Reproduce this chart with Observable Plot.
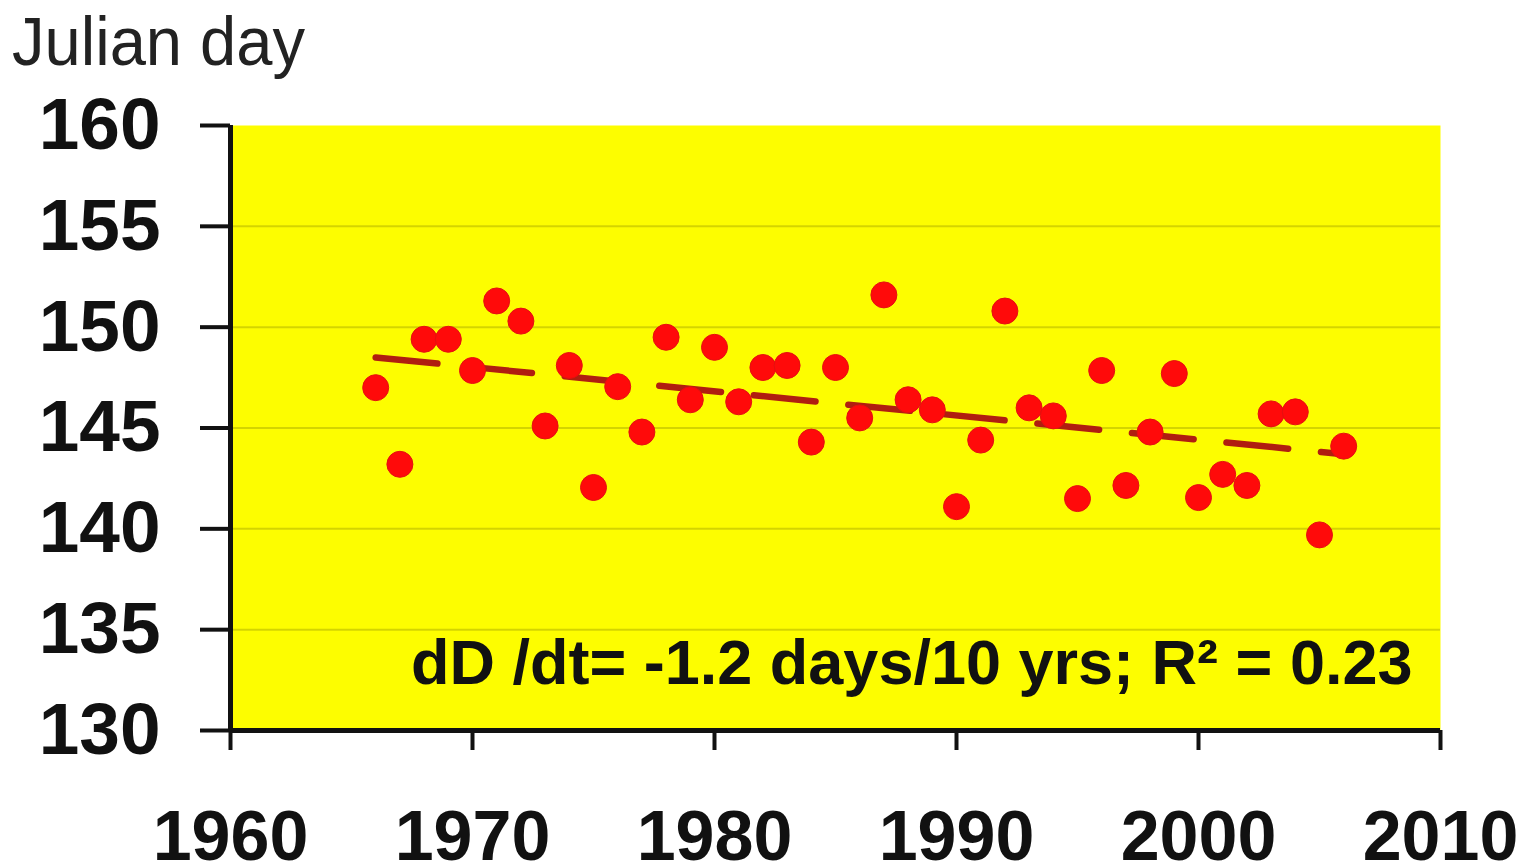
<!DOCTYPE html>
<html>
<head>
<meta charset="utf-8">
<script src="https://cdn.jsdelivr.net/npm/d3@7"></script>
<script src="https://cdn.jsdelivr.net/npm/@observablehq/plot@0.6"></script>
<style>
  body { margin: 0; background: #fff; overflow: hidden; }
  #wrap { position: relative; width: 1519px; height: 868px; }
  #title { position: absolute; left: 12px; top: 2px; font-family: "Liberation Sans Narrow", "Liberation Sans", sans-serif; font-size: 68px; color: #222; white-space: nowrap; transform-origin: 0 0; }
  #chart { position: absolute; left: 0; top: 0; }
</style>
</head>
<body>
<div id="wrap">
  <div id="chart"></div>
  <div id="title">Julian day</div>
</div>
<script>
const years = [1966,1967,1968,1969,1970,1971,1972,1973,1974,1975,1976,1977,1978,1979,1980,1981,1982,1983,1984,1985,1986,1987,1988,1989,1990,1991,1992,1993,1994,1995,1996,1997,1998,1999,2000,2001,2002,2003,2004,2005,2006];
const julianDay = [147.0,143.2,149.4,149.4,147.85,151.3,150.3,145.1,148.1,142.05,147.05,144.8,149.5,146.4,149.0,146.3,148.0,148.1,144.3,148.0,145.5,151.6,146.4,145.9,141.1,144.4,150.8,146.0,145.6,141.5,147.85,142.15,144.8,147.7,141.55,142.7,142.15,145.7,145.8,139.7,144.1];
const trendYears = [1966, 2006];
const trendValues = [148.5, 143.7];
const yTicks = [130,135,140,145,150,155,160];
const xTicks = [1960,1970,1980,1990,2000,2010];
const gridValues = [135,140,145,150,155];
const annotation = "dD /dt= -1.2 days/10 yrs; R\u00B2 = 0.23";

const points = years.map((y, i) => ({year: y, day: julianDay[i]}));
const trend = trendYears.map((y, i) => ({year: y, day: trendValues[i]}));

const chart = Plot.plot({
  width: 1519,
  height: 868,
  marginLeft: 230,
  marginRight: 79,
  marginTop: 125,
  marginBottom: 138,
  style: {fontFamily: "'Liberation Sans', Arial, sans-serif", background: "transparent", overflow: "visible"},
  x: {domain: [1960, 2010]},
  y: {domain: [130, 160]},
  marks: [
    Plot.frame({fill: "#fdfd00", stroke: null}),
    Plot.ruleY(gridValues, {stroke: "#d4d400", strokeWidth: 2}),
    Plot.line(trend, {x: "year", y: "day", stroke: "#b01e10", strokeWidth: 6.5, strokeDasharray: "62,33"}),
    Plot.dot(points, {x: "year", y: "day", r: 13, fill: "#ff0a0a", stroke: "#e41010", strokeWidth: 1}),
    Plot.text([annotation], {frameAnchor: "bottom-right", dx: -28, dy: -47, fontSize: 63, fontWeight: "bold", fill: "#111", textAnchor: "end", lineAnchor: "bottom"}),
    Plot.axisY({ticks: yTicks, tickSize: 30, tickPadding: 40, fontSize: 73, fontWeight: "bold", strokeWidth: 4, stroke: "#111", fill: "#111", label: null}),
    Plot.axisX({ticks: xTicks, tickSize: 20, tickPadding: 60, fontSize: 70, fontWeight: "bold", strokeWidth: 4, stroke: "#111", fill: "#111", tickFormat: d => String(d), label: null}),
    Plot.ruleX([1960], {stroke: "#111", strokeWidth: 5}),
    Plot.ruleY([130], {stroke: "#111", strokeWidth: 5})
  ]
});
document.getElementById("chart").appendChild(chart);
const t = document.getElementById("title");
const w = t.getBoundingClientRect().width;
t.style.transform = `scaleX(${293 / w})`;
</script>
</body>
</html>
